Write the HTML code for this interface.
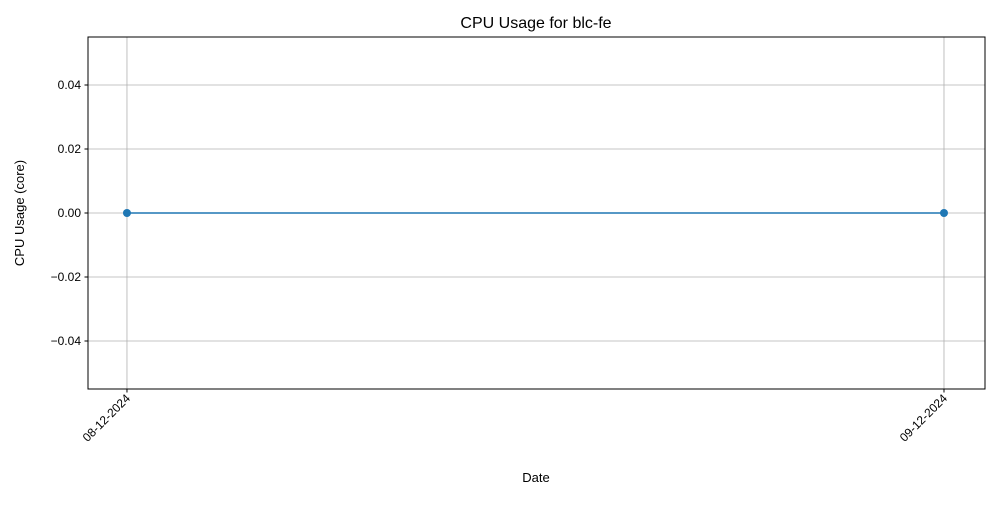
<!DOCTYPE html>
<html><head><meta charset="utf-8"><style>
body{margin:0;background:#fff;}
svg text{font-family:"Liberation Sans","DejaVu Sans",sans-serif;fill:#000;}
</style></head><body>
<svg id="chart" width="1000" height="500">
<rect width="1000" height="500" fill="#fff"/>
<text x="536" y="28" text-anchor="middle" font-size="16">CPU Usage for blc-fe</text>
<g id="grid"></g><g id="yticks"></g><g id="xticks"></g><g id="series"></g>
<rect x="88" y="37" width="897" height="352" fill="none" stroke="#000" stroke-width="1"/>
<text x="536" y="482" text-anchor="middle" font-size="13">Date</text>
<text transform="translate(24,213) rotate(-90)" text-anchor="middle" font-size="13">CPU Usage (core)</text>
</svg>
<script>
const categories = ["08-12-2024","09-12-2024"];
const values = [0, 0];
const yTicks = [-0.04,-0.02,0,0.02,0.04];
const yTickLabels = ["\u22120.04","\u22120.02","0.00","0.02","0.04"];
const L=88,R=985,T=37,B=389;
const xmin=-0.0477,xmax=1.0502,ymin=-0.055,ymax=0.055;
const xs=i=>L+(i-xmin)/(xmax-xmin)*(R-L);
const ys=v=>B-(v-ymin)/(ymax-ymin)*(B-T);
const NS="http://www.w3.org/2000/svg";
function mk(tag,attrs,parent){const e=document.createElementNS(NS,tag);for(const k in attrs)e.setAttribute(k,attrs[k]);document.getElementById(parent).appendChild(e);return e;}
yTicks.forEach((v,i)=>{const y=ys(v);
 let g=mk('line',{x1:L,x2:R,y1:y,y2:y,stroke:'#b0b0b0','stroke-width':0.8},'grid');
 
 
 let t=mk('line',{x1:L-3.5,x2:L,y1:y,y2:y,stroke:'#000'},'yticks');
 
 
 let l=mk('text',{x:L-7,y:y+4,'text-anchor':'end','font-size':12},'yticks');l.textContent=yTickLabels[i];
 
 
});
categories.forEach((c,i)=>{const x=xs(i);
 let g=mk('line',{x1:x,x2:x,y1:T,y2:B,stroke:'#b0b0b0','stroke-width':0.8},'grid');
 
 
 let t=mk('line',{x1:x,x2:x,y1:B,y2:B+3.5,stroke:'#000'},'xticks');
 
 
 let l=mk('text',{x:0,y:0,'text-anchor':'end','font-size':12,transform:`translate(${x+4},${B+10}) rotate(-45)`},'xticks');l.textContent=c;
 
 
});
const pts=values.map((v,i)=>xs(i)+','+ys(v)).join(' ');
let pl=mk('polyline',{points:pts,fill:'none',stroke:'#1f77b4','stroke-width':1.5},'series');


values.forEach((v,i)=>{let c=mk('circle',{cx:xs(i),cy:ys(v),r:4,fill:'#1f77b4'},'series');
 
 
});
</script>
</body></html>
